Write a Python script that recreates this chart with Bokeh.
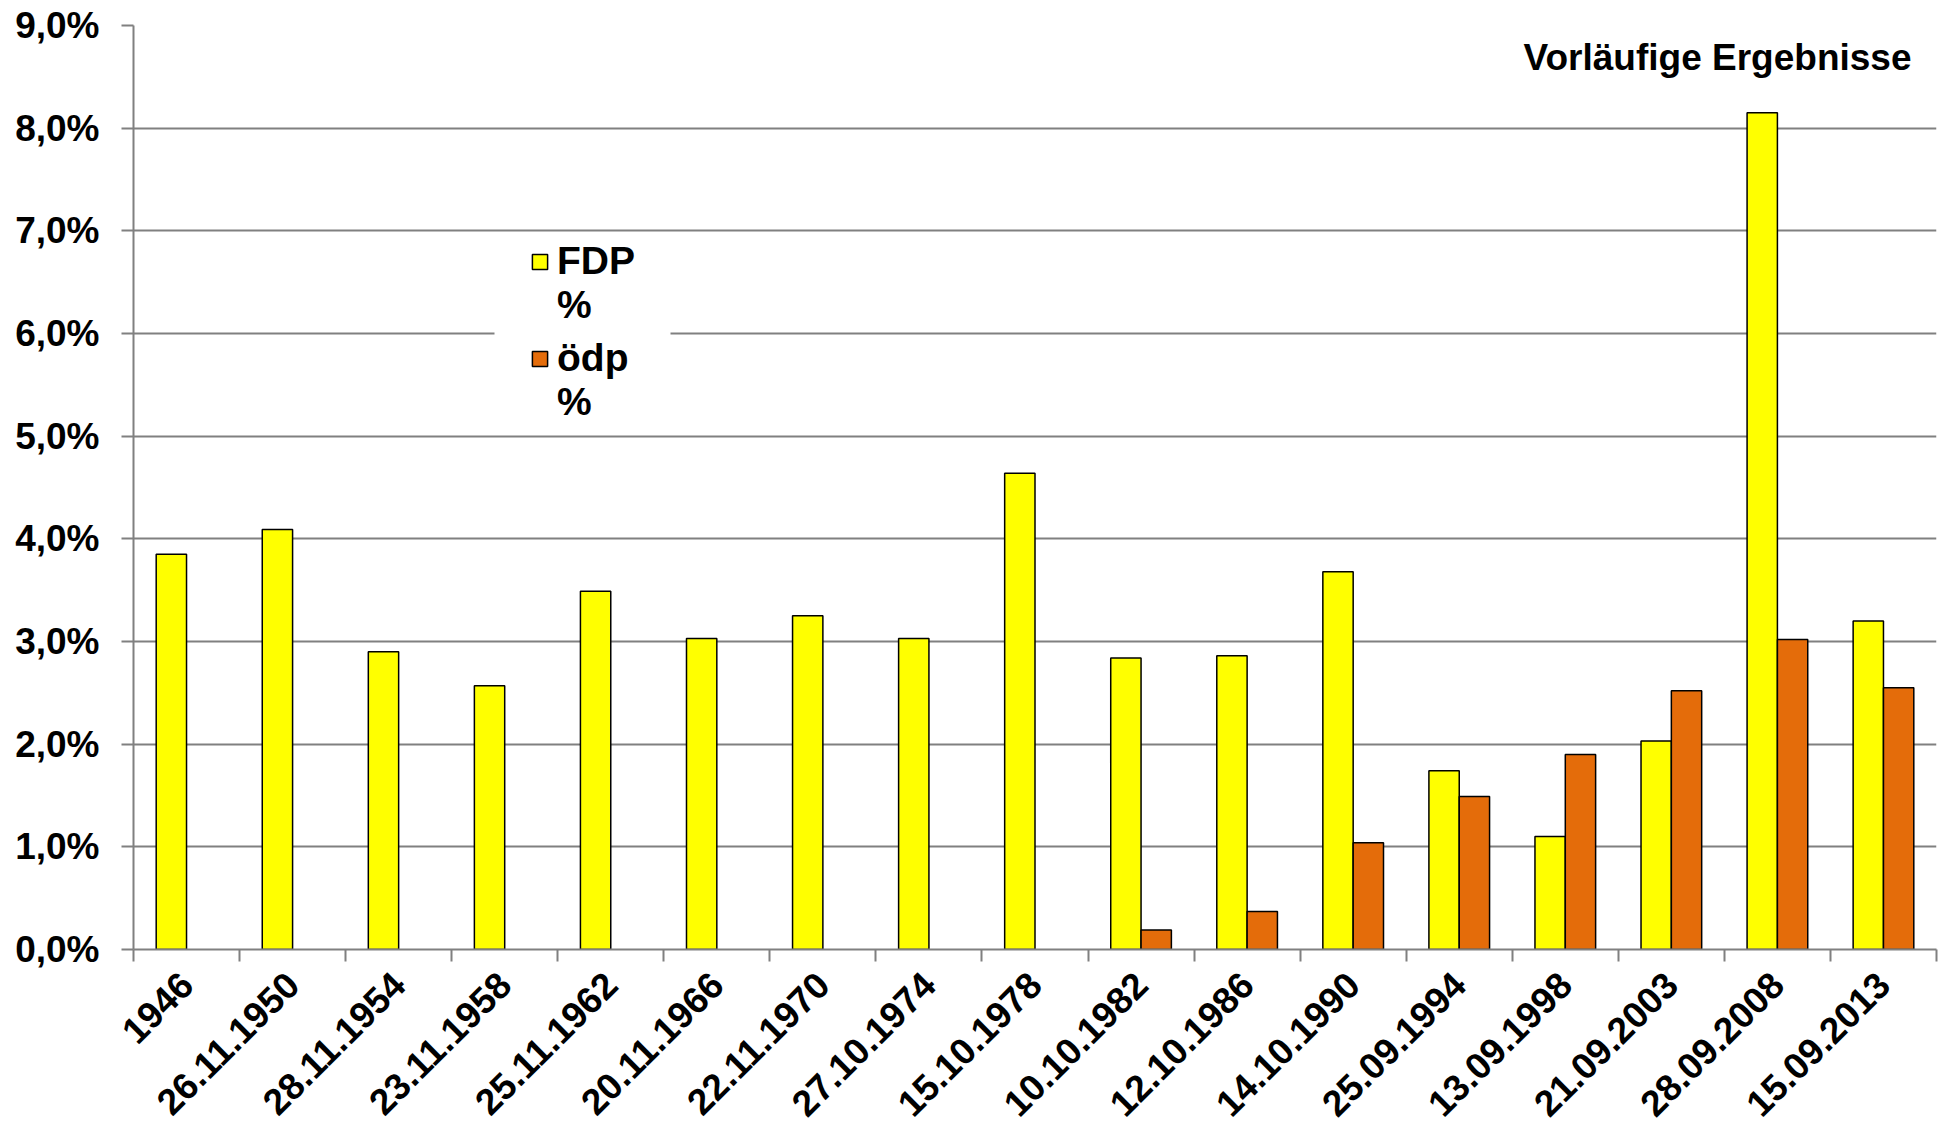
import numpy as np
from math import pi
from bokeh.plotting import figure
from bokeh.models import (ColumnDataSource, FixedTicker, Legend, LegendItem, Label, Range1d,
                          BoxAnnotation)
from bokeh.embed import file_html
from bokeh.resources import INLINE

dates = ["1946", "26.11.1950", "28.11.1954", "23.11.1958", "25.11.1962", "20.11.1966",
         "22.11.1970", "27.10.1974", "15.10.1978", "10.10.1982", "12.10.1986", "14.10.1990",
         "25.09.1994", "13.09.1998", "21.09.2003", "28.09.2008", "15.09.2013"]
fdp = [3.85, 4.09, 2.90, 2.57, 3.49, 3.03, 3.25, 3.03, 4.64, 2.84, 2.86, 3.68,
       1.74, 1.10, 2.03, 8.15, 3.20]
oedp = [None, None, None, None, None, None, None, None, None, 0.19, 0.37, 1.04,
        1.49, 1.90, 2.52, 3.02, 2.55]
y_ticks = [0, 1, 2, 3, 4, 5, 6, 7, 8, 9]
y_tick_labels = ["0,0%", "1,0%", "2,0%", "3,0%", "4,0%", "5,0%", "6,0%", "7,0%", "8,0%", "9,0%"]
series_names = ["FDP", "ödp"]
series_unit = "%"
note = "Vorläufige Ergebnisse"

FONT = "Liberation Sans"
GRAY = "#808080"
n = len(dates)
bar_w = 0.286
centers = np.arange(n) + 0.5
oedp_vals = np.array([np.nan if v is None else v for v in oedp], dtype=float)

src = ColumnDataSource(dict(
    x_fdp=centers - bar_w / 2,
    x_oedp=centers + bar_w / 2,
    fdp=fdp,
    oedp=oedp_vals,
))

p = figure(width=1938, height=1130, x_range=Range1d(0, n), y_range=Range1d(0, 9),
           output_backend="svg", toolbar_location=None,
           min_border_left=133, min_border_right=2, min_border_top=25, min_border_bottom=181)
p.outline_line_color = None
p.background_fill_color = "white"
p.border_fill_color = "white"

r1 = p.vbar(x="x_fdp", top="fdp", bottom=0, width=bar_w, source=src,
            fill_color="#FFFF00", line_color="black", line_width=1.5)
r2 = p.vbar(x="x_oedp", top="oedp", bottom=0, width=bar_w, source=src,
            fill_color="#E46C0A", line_color="black", line_width=1.5)

# grid
p.xgrid.visible = False
p.ygrid.ticker = FixedTicker(ticks=y_ticks)
p.ygrid.grid_line_color = GRAY
p.ygrid.grid_line_width = 2

# y axis
ya = p.yaxis[0]
ya.ticker = FixedTicker(ticks=y_ticks)
ya.major_label_overrides = {t: l for t, l in zip(y_ticks, y_tick_labels)}
ya.axis_line_color = GRAY
ya.axis_line_width = 2
ya.major_tick_line_color = GRAY
ya.major_tick_line_width = 2
ya.major_tick_out = 12
ya.major_tick_in = 0
ya.minor_tick_line_color = None
ya.major_label_text_font = FONT
ya.major_label_text_font_style = "bold"
ya.major_label_text_font_size = "37px"
ya.major_label_text_color = "black"
ya.major_label_standoff = 22

# x axis
xa = p.xaxis[0]
xa.ticker = FixedTicker(ticks=list(centers), minor_ticks=list(range(n + 1)))
xa.major_label_overrides = {float(c): d for c, d in zip(centers, dates)}
xa.axis_line_color = GRAY
xa.axis_line_width = 2
xa.major_tick_line_color = None
xa.minor_tick_line_color = GRAY
xa.minor_tick_line_width = 2
xa.minor_tick_out = 12
xa.minor_tick_in = 0
xa.major_label_orientation = pi / 4
xa.major_label_text_font = FONT
xa.major_label_text_font_style = "bold"
xa.major_label_text_font_size = "37px"
xa.major_label_text_color = "black"
xa.major_label_standoff = 17

# white legend background panel (breaks the grid line behind the legend)
p.add_layout(BoxAnnotation(left=361, right=537, bottom=521, top=711,
                           left_units="screen", right_units="screen",
                           bottom_units="screen", top_units="screen",
                           fill_color="white", fill_alpha=1.0, line_color=None))


def make_legend(renderer, name, loc):
    return Legend(items=[LegendItem(label=name, renderers=[renderer]),
                         LegendItem(label=series_unit, renderers=[])],
                  location=loc, margin=0, padding=10, spacing=0,
                  glyph_width=19, glyph_height=19, label_standoff=8, label_width=70,
                  label_text_font=FONT, label_text_font_style="bold",
                  label_text_font_size="39px", label_text_color="black",
                  background_fill_color="white", background_fill_alpha=1.0,
                  border_line_color=None)


p.add_layout(make_legend(r1, series_names[0], (397, 622)))
p.add_layout(make_legend(r2, series_names[1], (397, 525)))

p.add_layout(Label(x=1778, y=913, x_units="screen", y_units="screen", text=note,
                   text_align="right", text_baseline="top", text_font=FONT,
                   text_font_style="bold", text_font_size="37px", text_color="black"))

open("out.html", "w").write(file_html(p, INLINE))
